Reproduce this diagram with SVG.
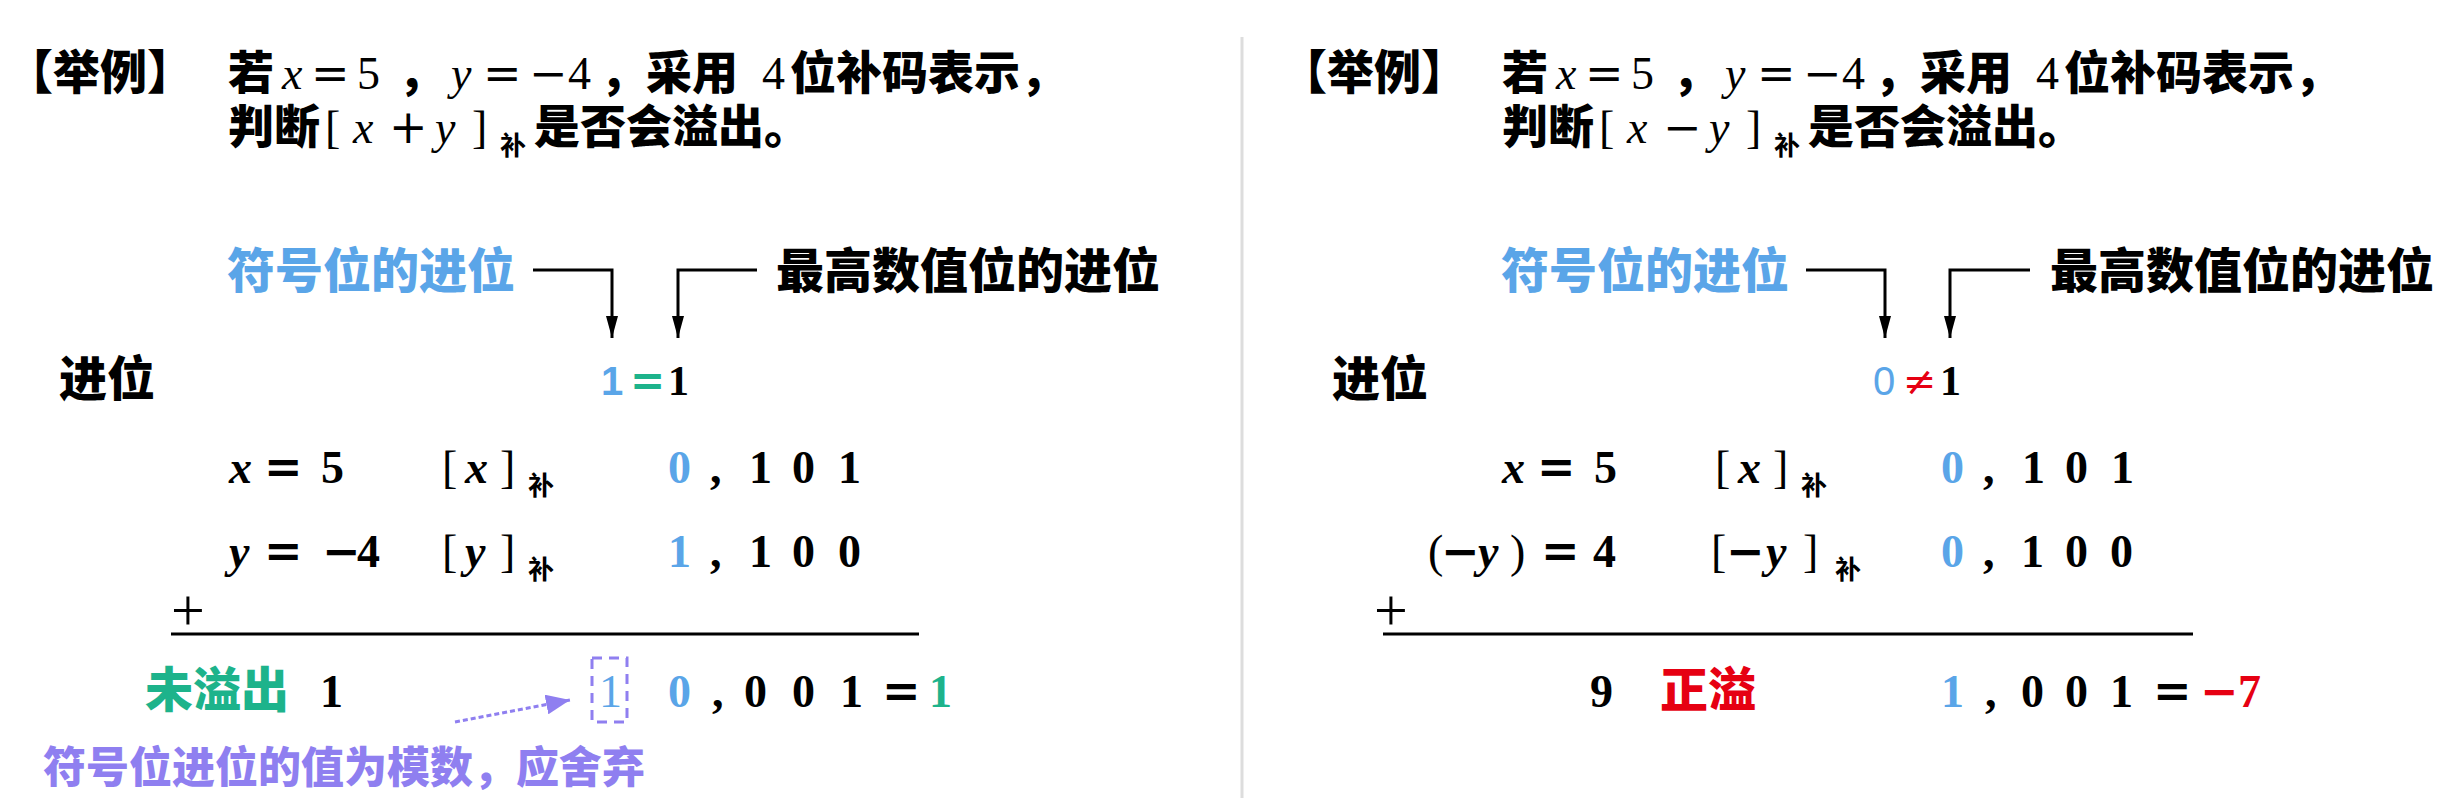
<svg xmlns="http://www.w3.org/2000/svg" width="2460" height="798" viewBox="0 0 2460 798">
<style>
.cn{font-family:"Noto Sans CJK SC","Noto Sans",sans-serif;font-weight:900}
.t{font-size:46px;fill:#000}
.lb{font-size:48px}
.m{font-family:"Liberation Serif",serif;font-size:46px}
.mi{font-style:italic}
.mb{font-family:"Liberation Serif",serif;font-size:46px;font-weight:bold;fill:#000}
.eq{font-family:"DejaVu Serif",serif;font-size:46px}
.sub{font-family:"Noto Sans CJK SC",sans-serif;font-weight:700;font-size:26px}
.blue{fill:#5aa5e8}
.green{fill:#1db38b}
.red{fill:#e60012}
.purple{fill:#8f7ff0}
.wire{fill:none;stroke:#000;stroke-width:3}
</style>
<defs>
<marker id="ah" viewBox="0 0 22 12" refX="22" refY="6" markerWidth="22" markerHeight="12" markerUnits="userSpaceOnUse" orient="auto">
<path d="M0 0 L22 6 L0 12 Z" fill="#000"/>
</marker>
<marker id="ap" viewBox="0 0 24 20" refX="24" refY="10" markerWidth="24" markerHeight="20" markerUnits="userSpaceOnUse" orient="auto">
<path d="M0 0 L24 10 L0 20 Z" fill="#8f7ff0"/>
</marker>
</defs>
<rect width="2460" height="798" fill="#fff"/>
<line x1="1242" y1="37" x2="1242" y2="798" stroke="#dddddd" stroke-width="3"/>

<g id="left-title">
<text class="cn" x="6" y="89" style="font-size:47px">【举例】</text>
<text class="cn t" y="89"><tspan x="228">若</tspan><tspan class="m mi" x="282" style="font-weight:normal">x</tspan><tspan class="eq" x="311" style="font-weight:normal">=</tspan><tspan class="m" x="357" style="font-weight:normal">5</tspan><tspan x="398">，</tspan><tspan class="m mi" x="451" style="font-weight:normal">y</tspan><tspan class="eq" x="483" style="font-weight:normal">=</tspan><tspan class="eq" x="529" style="font-weight:normal">−</tspan><tspan class="m" x="568" style="font-weight:normal">4</tspan><tspan x="600">，采用</tspan><tspan class="m" x="762" style="font-weight:normal">4</tspan><tspan x="790">位补码表示，</tspan></text>
<text class="cn t" y="143"><tspan x="228">判断</tspan><tspan class="m" x="325" style="font-weight:normal">[</tspan><tspan class="m mi" x="353" style="font-weight:normal">x</tspan><tspan class="eq" x="389" style="font-weight:normal">+</tspan><tspan class="m mi" x="435" style="font-weight:normal">y</tspan><tspan class="m" x="472" style="font-weight:normal">]</tspan><tspan class="sub" x="500" dy="12">补</tspan><tspan x="534" dy="-12">是否会溢出。</tspan></text>
</g>

<g id="left-labels">
<text class="cn lb blue" x="227" y="288">符号位的进位</text>
<text class="cn lb" x="776" y="288">最高数值位的进位</text>
<text class="cn lb" x="59" y="396">进位</text>
</g>

<g id="left-connectors">
<path class="wire" d="M533 270 H612 V338" marker-end="url(#ah)"/>
<path class="wire" d="M757 270 H678 V338" marker-end="url(#ah)"/>
<line x1="455" y1="722" x2="570" y2="700" stroke="#8f7ff0" stroke-width="3" stroke-dasharray="5 3" marker-end="url(#ap)"/>
</g>

<g id="left-carry">
<text y="395"><tspan class="blue" x="601" style="font-family:'Liberation Sans',sans-serif;font-size:40px;font-weight:bold">1</tspan><tspan class="green" x="630" style="font-family:'DejaVu Sans',sans-serif;font-size:42px;font-weight:bold">=</tspan><tspan x="668" style="font-family:'Liberation Serif',serif;font-size:42px;font-weight:bold">1</tspan></text>
</g>

<g id="left-row1">
<text class="mb" y="483"><tspan class="mi" x="229">x</tspan><tspan class="eq" x="264">=</tspan><tspan x="321">5</tspan><tspan x="442" style="font-weight:normal">[</tspan><tspan class="mi" x="465">x</tspan><tspan x="500" style="font-weight:normal">]</tspan><tspan class="sub" x="528" dy="12">补</tspan><tspan class="blue" x="668" dy="-12">0</tspan><tspan x="710">,</tspan><tspan x="749">1</tspan><tspan x="792">0</tspan><tspan x="838">1</tspan></text>
</g>

<g id="left-row2">
<text class="mb" y="567"><tspan class="mi" x="229">y</tspan><tspan class="eq" x="264">=</tspan><tspan class="eq" x="322">−</tspan><tspan x="357">4</tspan><tspan x="442" style="font-weight:normal">[</tspan><tspan class="mi" x="465">y</tspan><tspan x="500" style="font-weight:normal">]</tspan><tspan class="sub" x="528" dy="12">补</tspan><tspan class="blue" x="668" dy="-12">1</tspan><tspan x="710">,</tspan><tspan x="749">1</tspan><tspan x="792">0</tspan><tspan x="838">0</tspan></text>
<text class="m" x="171" y="630" style="font-size:60px">+</text>
<line x1="171" y1="634" x2="919" y2="634" stroke="#000" stroke-width="3"/>
</g>

<g id="left-result">
<text class="cn lb green" x="145" y="707">未溢出</text>
<rect x="592" y="658" width="35" height="64" fill="none" stroke="#8f7ff0" stroke-width="3" stroke-dasharray="10 7"/>
<text class="mb" y="707"><tspan x="320">1</tspan><tspan class="blue" x="599" style="font-weight:normal">1</tspan><tspan class="blue" x="668">0</tspan><tspan x="712">,</tspan><tspan x="744">0</tspan><tspan x="792">0</tspan><tspan x="840">1</tspan><tspan class="eq" x="882">=</tspan><tspan class="green" x="929">1</tspan></text>
<text class="cn purple" x="43" y="783" style="font-size:43px">符号位进位的值为模数，应舍弃</text>
</g>

<g id="right-title">
<text class="cn" x="1280" y="89" style="font-size:47px">【举例】</text>
<text class="cn t" y="89"><tspan x="1502">若</tspan><tspan class="m mi" x="1556" style="font-weight:normal">x</tspan><tspan class="eq" x="1585" style="font-weight:normal">=</tspan><tspan class="m" x="1631" style="font-weight:normal">5</tspan><tspan x="1672">，</tspan><tspan class="m mi" x="1725" style="font-weight:normal">y</tspan><tspan class="eq" x="1757" style="font-weight:normal">=</tspan><tspan class="eq" x="1803" style="font-weight:normal">−</tspan><tspan class="m" x="1842" style="font-weight:normal">4</tspan><tspan x="1874">，采用</tspan><tspan class="m" x="2036" style="font-weight:normal">4</tspan><tspan x="2064">位补码表示，</tspan></text>
<text class="cn t" y="143"><tspan x="1502">判断</tspan><tspan class="m" x="1599" style="font-weight:normal">[</tspan><tspan class="m mi" x="1627" style="font-weight:normal">x</tspan><tspan class="eq" x="1663" style="font-weight:normal">−</tspan><tspan class="m mi" x="1709" style="font-weight:normal">y</tspan><tspan class="m" x="1746" style="font-weight:normal">]</tspan><tspan class="sub" x="1774" dy="12">补</tspan><tspan x="1808" dy="-12">是否会溢出。</tspan></text>
</g>

<g id="right-labels">
<text class="cn lb blue" x="1501" y="288">符号位的进位</text>
<text class="cn lb" x="2050" y="288">最高数值位的进位</text>
<text class="cn lb" x="1332" y="396">进位</text>
</g>

<g id="right-connectors">
<path class="wire" d="M1806 270 H1885 V338" marker-end="url(#ah)"/>
<path class="wire" d="M2030 270 H1950 V338" marker-end="url(#ah)"/>
</g>

<g id="right-carry">
<text y="395"><tspan class="blue" x="1873" style="font-family:'Liberation Sans',sans-serif;font-size:40px">0</tspan><tspan class="red" x="1903" style="font-family:'DejaVu Serif',serif;font-size:40px">≠</tspan><tspan x="1940" style="font-family:'Liberation Serif',serif;font-size:42px;font-weight:bold">1</tspan></text>
</g>

<g id="right-row1">
<text class="mb" y="483"><tspan class="mi" x="1502">x</tspan><tspan class="eq" x="1537">=</tspan><tspan x="1594">5</tspan><tspan x="1715" style="font-weight:normal">[</tspan><tspan class="mi" x="1738">x</tspan><tspan x="1773" style="font-weight:normal">]</tspan><tspan class="sub" x="1801" dy="12">补</tspan><tspan class="blue" x="1941" dy="-12">0</tspan><tspan x="1983">,</tspan><tspan x="2022">1</tspan><tspan x="2065">0</tspan><tspan x="2111">1</tspan></text>
</g>

<g id="right-row2">
<text class="mb" y="567"><tspan x="1428" style="font-weight:normal">(</tspan><tspan class="eq" x="1441">−</tspan><tspan class="mi" x="1478">y</tspan><tspan x="1510" style="font-weight:normal">)</tspan><tspan class="eq" x="1541">=</tspan><tspan x="1593">4</tspan><tspan x="1711" style="font-weight:normal">[</tspan><tspan class="eq" x="1726">−</tspan><tspan class="mi" x="1766">y</tspan><tspan x="1803" style="font-weight:normal">]</tspan><tspan class="sub" x="1835" dy="12">补</tspan><tspan class="blue" x="1941" dy="-12">0</tspan><tspan x="1983">,</tspan><tspan x="2021">1</tspan><tspan x="2065">0</tspan><tspan x="2110">0</tspan></text>
<text class="m" x="1374" y="630" style="font-size:60px">+</text>
<line x1="1383" y1="634" x2="2193" y2="634" stroke="#000" stroke-width="3"/>
</g>

<g id="right-result">
<text class="cn lb red" x="1660" y="707">正溢</text>
<text class="mb" y="707"><tspan x="1590">9</tspan><tspan class="blue" x="1941">1</tspan><tspan x="1985">,</tspan><tspan x="2021">0</tspan><tspan x="2065">0</tspan><tspan x="2110">1</tspan><tspan class="eq" x="2153">=</tspan><tspan class="eq red" x="2200">−</tspan><tspan class="red" x="2238">7</tspan></text>
</g>
</svg>
